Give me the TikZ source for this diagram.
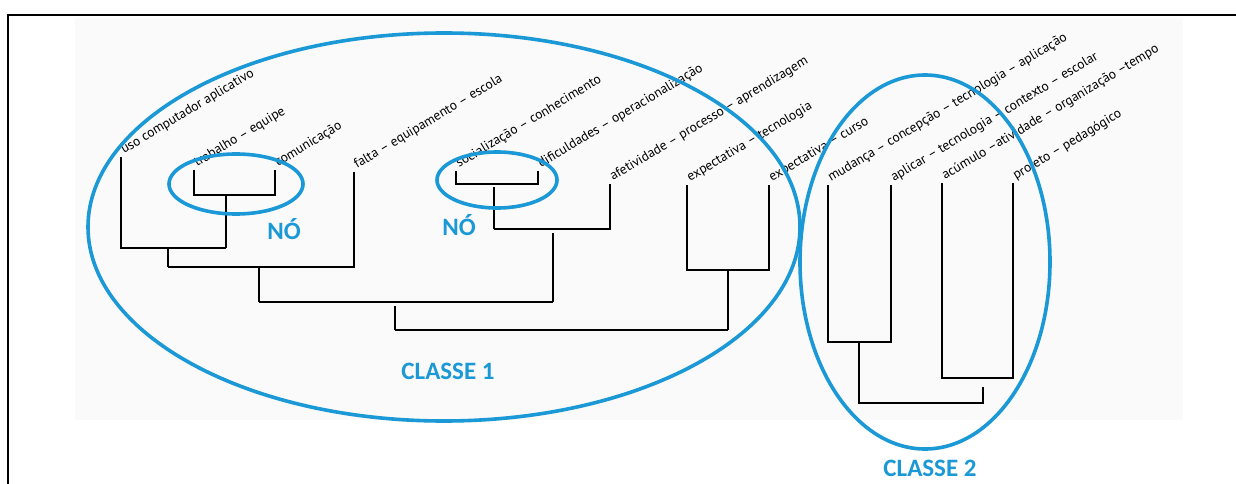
\documentclass[tikz,border=0pt]{standalone}
\usepackage{fontspec}
\setmainfont{PT Sans}
\newfontfamily\tagfont{Carlito}
\definecolor{classblue}{RGB}{27,152,214}
\begin{document}
\begin{tikzpicture}[x=1pt,y=-1pt,
  tree/.style={line width=1.8pt, black},
  ring/.style={draw=classblue, line width=3.6pt},
  leaf/.style={anchor=base west, rotate=31, inner sep=0pt,
               font=\fontsize{13.5}{15}\selectfont},
  tag/.style={text=classblue, inner sep=0pt,
              font=\tagfont\bfseries\fontsize{25}{28}\selectfont}]
\useasboundingbox (0,0) rectangle (1236,484);
\fill[white] (0,0) rectangle (1236,484);
% faint page tone
\fill[black!2] (75,18) rectangle (1183,420);
% frame
\draw[line width=2pt] (8,484) -- (8,15) -- (1236,15);

% leaf tops
\coordinate (l1)  at (121,157);
\coordinate (l2)  at (194,170);
\coordinate (l3)  at (275,170);
\coordinate (l4)  at (354,172);
\coordinate (l5)  at (456,171);
\coordinate (l6)  at (538,171);
\coordinate (l7)  at (610,184);
\coordinate (l8)  at (687,185);
\coordinate (l9)  at (769,185);
\coordinate (l10) at (828,185);
\coordinate (l11) at (891,185);
\coordinate (l12) at (942,183);
\coordinate (l13) at (1013,183);

% leaf labels
\path (l1)  ++(3,-3) node[leaf] (t1)  {uso computador aplicativo};
\path (l2)  ++(3,-3) node[leaf] (t2)  {trabalho – equipe};
\path (l3)  ++(3,-3) node[leaf] (t3)  {comunicação};
\path (l4)  ++(3,-3) node[leaf] (t4)  {falta – equipamento – escola};
\path (l5)  ++(3,-3) node[leaf] (t5)  {socialização – conhecimento};
\path (l6)  ++(3,-3) node[leaf] (t6)  {dificuldades – operacionalização};
\path (l7)  ++(3,-3) node[leaf] (t7)  {afetividade – processo – aprendizagem};
\path (l8)  ++(3,-3) node[leaf] (t8)  {expectativa – tecnologia};
\path (l9)  ++(3,-3) node[leaf] (t9)  {expectativa – curso};
\path (l10) ++(3,-3) node[leaf] (t10) {mudança – concepção – tecnologia – aplicação};
\path (l11) ++(3,-3) node[leaf] (t11) {aplicar – tecnologia – contexto – escolar};
\path (l12) ++(3,-3) node[leaf] (t12) {acúmulo –atividade – organização –tempo};
\path (l13) ++(3,-3) node[leaf] (t13) {projeto – pedagógico};

% class 1 branches
\draw[tree] (l2) -- (194,195) -- (275,195) -- (l3);
\draw[tree] (226,195) -- (226,248);
\draw[tree] (l1) -- (121,248) -- (226,248);
\draw[tree] (168,248) -- (168,267);
\draw[tree] (168,267) -- (354,267) -- (l4);
\draw[tree] (259,267) -- (259,302);
\draw[tree] (l5) -- (456,184) -- (538,184) -- (l6);
\draw[tree] (494,187) -- (494,229);
\draw[tree] (494,229) -- (610,229) -- (l7);
\draw[tree] (553,233) -- (553,302);
\draw[tree] (259,302) -- (553,302);
\draw[tree] (395,306) -- (395,330);
\draw[tree] (l8) -- (687,270) -- (769,270) -- (l9);
\draw[tree] (728,270) -- (728,330);
\draw[tree] (395,330) -- (728,330);

% class 2 branches
\draw[tree] (l10) -- (828,342) -- (891,342) -- (l11);
\draw[tree] (859,342) -- (859,403) -- (983,403) -- (983,387);
\draw[tree] (l12) -- (942,378) -- (1013,378) -- (l13);

% groupings
\draw[ring] (444,227) ellipse [x radius=356, y radius=194];
\draw[ring] (925,262) ellipse [x radius=125, y radius=187];
\draw[ring] (236,184) ellipse [x radius=67, y radius=30];
\draw[ring] (497,180) ellipse [x radius=60, y radius=28];

\node[tag] (no1) at (284,229) {NÓ};
\node[tag] (no2) at (459,225) {NÓ};
\node[tag] (c1)  at (448,371) {CLASSE 1};
\node[tag] (c2)  at (930,468) {CLASSE 2};
\end{tikzpicture}
\end{document}
